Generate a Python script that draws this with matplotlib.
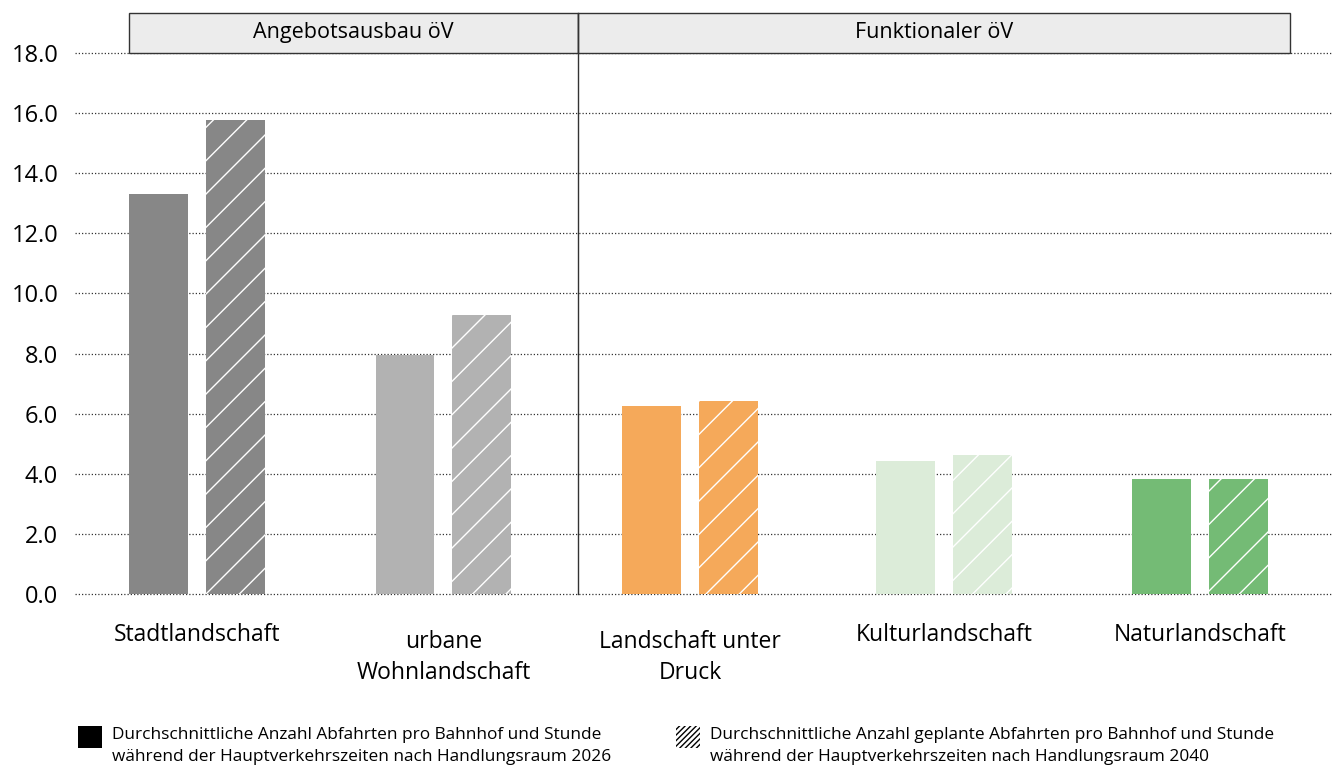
import numpy as np
import matplotlib.pyplot as plt
from matplotlib.patches import Rectangle
from matplotlib.transforms import ScaledTranslation

plt.rcParams['font.family'] = ['Open Sans', 'DejaVu Sans']
plt.rcParams['hatch.linewidth'] = 1.0

# Daten
kategorien = ['Stadtlandschaft', 'urbane\nWohnlandschaft', 'Landschaft unter\nDruck',
              'Kulturlandschaft', 'Naturlandschaft']
werte_2026 = [13.3, 7.95, 6.25, 4.42, 3.83]
werte_2040 = [15.77, 9.28, 6.42, 4.62, 3.83]
farben = ['#878787', '#b2b2b2', '#f5a95a', '#dcecd9', '#74bb75']
gruppen = ['Angebotsausbau öV', 'Funktionaler öV']
yticks = [0, 2, 4, 6, 8, 10, 12, 14, 16, 18]

fig = plt.figure(figsize=(13.37, 7.74), dpi=100)
ax = fig.add_axes([0.056, 0.2326, 0.94, 0.699])

# Gruppenpositionen (Layout)
x = np.array([0, 1.0, 2.0, 3.03, 4.07])
w = 0.239
off = 0.156
ax.bar(x - off, werte_2026, width=w, color=farben, linewidth=0, zorder=3)
ax.bar(x + off, werte_2040, width=w, color=farben, edgecolor='white',
       hatch='/', linewidth=0, zorder=3)

ax.set_xlim(-0.495, 4.603)
ax.set_ylim(0, 18)
ax.set_yticks(yticks)
ax.set_yticklabels([f'{v:.1f}' for v in yticks], fontsize=17)
ax.set_xticks(x)
ax.set_xticklabels(kategorien, fontsize=16.5, linespacing=1.4)
ax.tick_params(length=0)
ax.tick_params(axis='x', pad=21)
ax.tick_params(axis='y', pad=12)
for s in ax.spines.values():
    s.set_visible(False)
ax.grid(axis='y', color='#333333', linestyle=(0, (1, 1.6)), linewidth=0.9, zorder=0)
for gl in ax.get_ygridlines():
    gl.set_clip_on(False)

# zweizeilige Beschriftungen etwas tiefer
for lbl in ax.get_xticklabels():
    if '\n' in lbl.get_text():
        lbl.set_transform(lbl.get_transform() +
                          ScaledTranslation(0, -7 / 100, fig.dpi_scale_trans))

# Kopfzeilen und Trennlinie
teil = 1.545
kopf_unten, kopf_oben = 18, 19.33
ax.add_patch(Rectangle((-0.276, kopf_unten), teil + 0.276, kopf_oben - kopf_unten,
                       facecolor='#ececec', edgecolor='#333333', linewidth=1,
                       clip_on=False, zorder=4))
ax.add_patch(Rectangle((teil, kopf_unten), 4.436 - teil, kopf_oben - kopf_unten,
                       facecolor='#ececec', edgecolor='#333333', linewidth=1,
                       clip_on=False, zorder=4))
ax.text((-0.276 + teil) / 2, (kopf_unten + kopf_oben) / 2, gruppen[0],
        ha='center', va='center', fontsize=15.5, zorder=5)
ax.text((teil + 4.436) / 2, (kopf_unten + kopf_oben) / 2, gruppen[1],
        ha='center', va='center', fontsize=15.5, zorder=5)
ax.plot([teil, teil], [0, kopf_oben], color='#333333', linewidth=1,
        clip_on=False, zorder=4)

# Legende
H, W = 774, 1337
fig.add_artist(Rectangle((78 / W, 1 - 748 / H), 24 / W, 22 / H,
                         facecolor='black', linewidth=0, transform=fig.transFigure))
fig.add_artist(Rectangle((676 / W, 1 - 748 / H), 24 / W, 22 / H,
                         facecolor='white', edgecolor='black', hatch='//////',
                         linewidth=0, transform=fig.transFigure))
fig.text(112 / W, 1 - 727 / H,
         'Durchschnittliche Anzahl Abfahrten pro Bahnhof und Stunde\n'
         'während der Hauptverkehrszeiten nach Handlungsraum 2026',
         fontsize=12.4, va='top', ha='left', linespacing=1.5)
fig.text(710 / W, 1 - 727 / H,
         'Durchschnittliche Anzahl geplante Abfahrten pro Bahnhof und Stunde\n'
         'während der Hauptverkehrszeiten nach Handlungsraum 2040',
         fontsize=12.4, va='top', ha='left', linespacing=1.5)

fig.savefig('out.png', dpi=100)
